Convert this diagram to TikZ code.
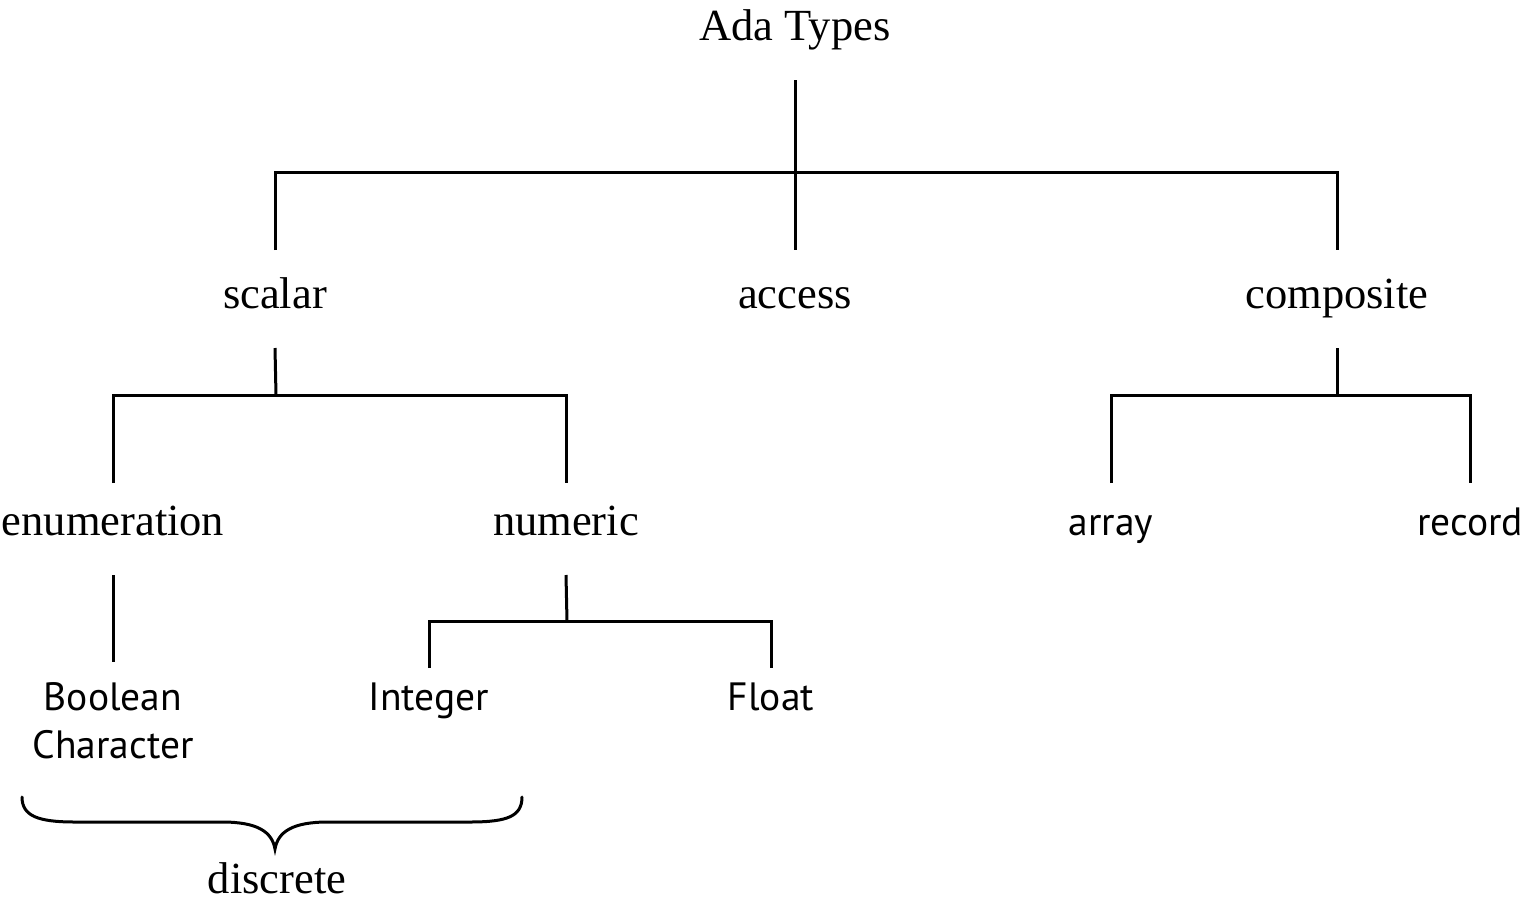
\documentclass[tikz,border=0pt]{standalone}
\usepackage{fontspec}
\setmainfont{Liberation Serif}
\newfontfamily\labsans{PT Sans}
\begin{document}
\begin{tikzpicture}[x=1pt,y=-1pt,
  serifl/.style={anchor=base,inner sep=0pt,font=\fontsize{44.5}{50}\selectfont},
  sansl/.style={anchor=base,inner sep=0pt,font=\labsans\fontsize{39.5}{46}\selectfont},
  edge/.style={line width=3pt,line cap=butt,line join=miter}]
\useasboundingbox (0,0) rectangle (1524,903);
% nodes
\node[serifl] (ada) at (795,40) {Ada Types};
\node[serifl] (scalar) at (275,308) {scalar};
\node[serifl] (access) at (795,308) {access};
\node[serifl] (composite) at (1337,308) {composite};
\node[serifl] (enum) at (113,535) {enumeration};
\node[serifl] (numeric) at (566,535) {numeric};
\node[sansl] (array) at (1111,535) {array};
\node[sansl] (record) at (1470,535) {record};
\node[sansl] (bool) at (113,710) {Boolean};
\node[sansl] (char) at (113,758) {Character};
\node[sansl] (integer) at (429,710) {Integer};
\node[sansl] (float) at (771,710) {Float};
\node[serifl] (discrete) at (277,893) {discrete};
% bus coordinates
\coordinate (bus0) at (795,172);
\coordinate (bus1) at (276,395);
\coordinate (bus2) at (1337,395);
\coordinate (bus3) at (567,621);
% edges
\draw[edge] ([yshift=-40pt]ada.base) -- ([yshift=58pt]access.base);
\draw[edge] ([yshift=58pt]scalar.base) |- (bus0) -| ([yshift=58pt]composite.base);
\draw[edge] ([yshift=-40pt]scalar.base) -- (bus1);
\draw[edge] ([yshift=52pt]enum.base) |- (bus1) -| ([yshift=52pt]numeric.base);
\draw[edge] ([yshift=-40pt]composite.base) -- (bus2);
\draw[edge] ([yshift=52pt]array.base) |- (bus2) -| ([yshift=52pt]record.base);
\draw[edge] ([yshift=-40pt]enum.base) -- ([yshift=48pt]bool.base);
\draw[edge] ([yshift=-40pt]numeric.base) -- (bus3);
\draw[edge] ([yshift=42pt]integer.base) |- (bus3) -| ([yshift=42pt]float.base);
% brace
\coordinate (brL) at (22,797);
\coordinate (brR) at (522,797);
\coordinate (brT) at (275,849);
\draw[line width=3pt,line cap=round] (brL) .. controls (22,816) and (38,822) .. (75,822)
  -- (222,822) .. controls (258,822) and (272,832) .. (brT)
  .. controls (278,832) and (292,822) .. (328,822)
  -- (470,822) .. controls (508,822) and (522,816) .. (brR);
\end{tikzpicture}
\end{document}
